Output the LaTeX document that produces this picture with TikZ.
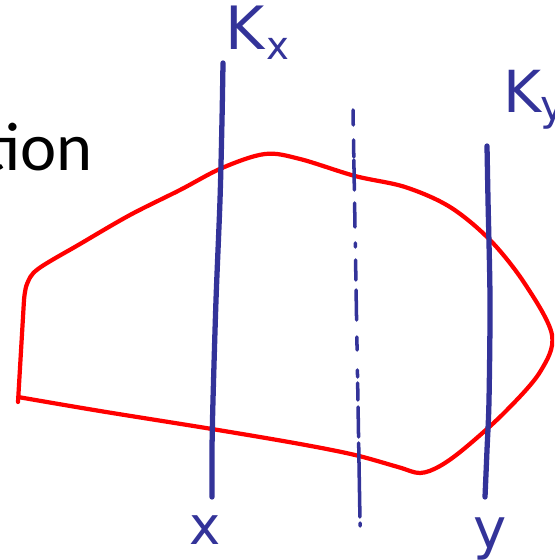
\documentclass[tikz,border=0pt]{standalone}
\usepackage{fontspec}
\setmainfont{Carlito}
\newfontfamily\handfont{DejaVu Sans}
\definecolor{penblue}{RGB}{51,51,153}
\definecolor{penred}{RGB}{255,0,0}
\begin{document}
\begin{tikzpicture}[x=0.02cm,y=-0.02cm,
  redpen/.style={draw=penred,line width=2.4pt,line join=round,line cap=round},
  bluepen/.style={draw=penblue,line width=3pt,line cap=round,line join=round},
  dashpen/.style={draw=penblue,line width=2pt,line cap=round},
  handlabel/.style={text=penblue,inner sep=0pt,font=\handfont}]
\clip (0,0) rectangle (554,560);
% title fragment
\node[anchor=base east,inner sep=0pt,font=\fontsize{39}{44}\selectfont] (title) at (93,171) {tion};
% red region
\draw[redpen] (18,402) -- (24,300) -- plot[smooth,tension=0.55] coordinates {(24,300) (27,284) (38,269) (80,244) (130,215) (180,190) (222,168) (265,154) (300,159) (355,176) (405,187) (450,207) (490,240) (525,284) (552,335) (540,372) (505,412) (465,448) (440,466) (420,473) (398,467) (355,455) (300,444) (212,429) (100,411) (18,397)};
% K_x line
\draw[bluepen] plot[smooth] coordinates {(223,63) (222,120) (220,200) (216,300) (213,400) (212,450) (212,497)};
% K_y line
\draw[bluepen] plot[smooth] coordinates {(487,146) (488,200) (490,300) (489,400) (487,450) (485,497)};
% dash-dot line
\foreach \a/\b in {110/125,140/157,160/190,203/227,243/247,260/280,290/320,337/350,370/377,383/400,407/437,443/517,523/526}{
  \draw[dashpen] ({353+(\a-110)*0.017},\a) -- ({353+(\b-110)*0.017},\b);
}
% labels
\node[handlabel,font=\handfont\fontsize{34}{36}\selectfont,anchor=base west] (kx) at (225,50) {K};
\node[handlabel,font=\handfont\fontsize{22}{24}\selectfont,anchor=base west] (kxs) at (266,60) {x};
\node[handlabel,font=\handfont\fontsize{33}{35}\selectfont,anchor=base west] (ky) at (503,113) {K};
\node[handlabel,font=\handfont\fontsize{24}{26}\selectfont,anchor=base west] (kys) at (540,121) {y};
\node[handlabel,font=\handfont\fontsize{30}{32}\selectfont,anchor=base] (xl) at (205,544) {x};
\node[handlabel,font=\handfont\fontsize{32}{34}\selectfont,anchor=base] (yl) at (490,548) {y};
\end{tikzpicture}
\end{document}
